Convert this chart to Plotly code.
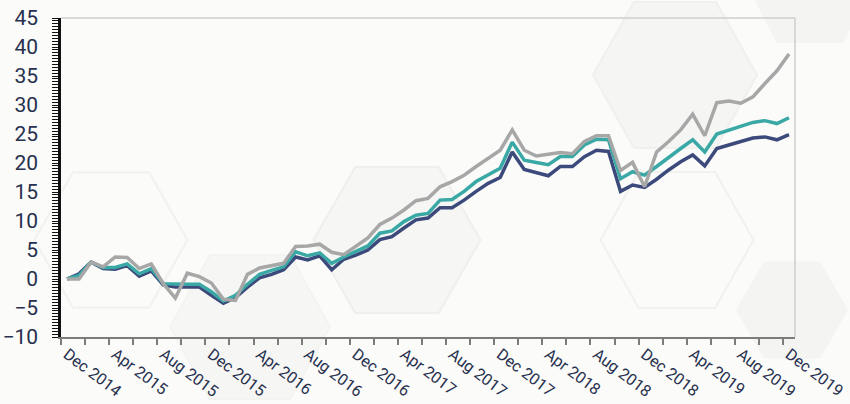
import plotly.graph_objects as go

# ---- data ----
months = ["Dec 2014", "Jan 2015", "Feb 2015", "Mar 2015", "Apr 2015", "May 2015", "Jun 2015", "Jul 2015",
          "Aug 2015", "Sep 2015", "Oct 2015", "Nov 2015", "Dec 2015", "Jan 2016", "Feb 2016", "Mar 2016",
          "Apr 2016", "May 2016", "Jun 2016", "Jul 2016", "Aug 2016", "Sep 2016", "Oct 2016", "Nov 2016",
          "Dec 2016", "Jan 2017", "Feb 2017", "Mar 2017", "Apr 2017", "May 2017", "Jun 2017", "Jul 2017",
          "Aug 2017", "Sep 2017", "Oct 2017", "Nov 2017", "Dec 2017", "Jan 2018", "Feb 2018", "Mar 2018",
          "Apr 2018", "May 2018", "Jun 2018", "Jul 2018", "Aug 2018", "Sep 2018", "Oct 2018", "Nov 2018",
          "Dec 2018", "Jan 2019", "Feb 2019", "Mar 2019", "Apr 2019", "May 2019", "Jun 2019", "Jul 2019",
          "Aug 2019", "Sep 2019", "Oct 2019", "Nov 2019", "Dec 2019"]

navy = [0.0, 0.9, 2.9, 1.8, 1.7, 2.3, 0.5, 1.4, -1.0, -1.4, -1.4, -1.4, -2.8, -4.2, -3.2, -1.4,
        0.2, 0.8, 1.6, 3.8, 3.3, 4.0, 1.6, 3.4, 4.1, 5.0, 6.8, 7.3, 8.8, 10.2, 10.5, 12.3,
        12.3, 13.6, 15.1, 16.5, 17.5, 21.9, 18.9, 18.3, 17.8, 19.4, 19.4, 21.1, 22.2, 22.0, 15.1, 16.2,
        15.8, 17.2, 18.8, 20.2, 21.4, 19.5, 22.5, 23.1, 23.7, 24.3, 24.5, 24.0, 24.9]

teal = [0.0, 0.6, 2.9, 2.0, 2.0, 2.6, 0.9, 1.8, -0.8, -0.9, -0.9, -0.9, -2.2, -3.8, -2.8, -0.9,
        0.8, 1.5, 2.1, 4.7, 4.0, 4.5, 2.7, 3.8, 4.7, 5.7, 7.9, 8.3, 9.9, 11.0, 11.3, 13.6,
        13.7, 15.1, 16.8, 17.9, 19.1, 23.6, 20.5, 20.1, 19.7, 21.1, 21.1, 23.1, 24.1, 24.0, 17.3, 18.5,
        17.9, 19.4, 21.0, 22.5, 24.0, 21.9, 25.0, 25.7, 26.4, 27.0, 27.3, 26.8, 27.8]

gray = [0.0, 0.0, 2.9, 2.1, 3.8, 3.7, 1.8, 2.6, -0.8, -3.3, 1.0, 0.4, -0.7, -3.5, -3.7, 0.8,
        1.9, 2.3, 2.7, 5.6, 5.7, 6.0, 4.6, 4.2, 5.6, 7.1, 9.4, 10.5, 11.9, 13.5, 13.9, 15.9,
        16.8, 17.9, 19.4, 20.8, 22.2, 25.7, 22.2, 21.2, 21.5, 21.8, 21.6, 23.7, 24.7, 24.7, 18.7, 20.1,
        15.9, 21.9, 23.7, 25.7, 28.4, 24.7, 30.4, 30.7, 30.3, 31.4, 33.7, 35.9, 38.8]

y_ticks = [-10, -5, 0, 5, 10, 15, 20, 25, 30, 35, 40, 45]

# ---- derived ----
idx = list(range(len(months)))
label_idx = idx[::4]
label_txt = [months[i] for i in label_idx]
boundary_ticks = [i - 0.5 for i in idx[::2]]

NAVY = "#3c4a7b"
TEAL = "#3aa9a6"
GRAY = "#a7a7a7"
TXT = "#27304e"
BG = "#fbfbf9"

fig = go.Figure()
for name, vals, col in [("Navy", navy, NAVY), ("Teal", teal, TEAL), ("Gray", gray, GRAY)]:
    fig.add_trace(go.Scatter(x=idx, y=vals, mode="lines", name=name,
                             line=dict(color=col, width=3.5), hoverinfo="skip"))

# ---- decorative background hexagons (pixel-based -> paper coords) ----
L, R, T, B = 61, 795, 18, 337
def px(x):
    return (x - L) / (R - L)
def py(y):
    return (B - y) / (B - T)

def hexagon(cx, cy, w, h, fill, line):
    pts = [(cx - w / 2, cy), (cx - w / 4, cy - h / 2), (cx + w / 4, cy - h / 2),
           (cx + w / 2, cy), (cx + w / 4, cy + h / 2), (cx - w / 4, cy + h / 2)]
    path = "M " + " L ".join(f"{px(a):.4f},{py(b):.4f}" for a, b in pts) + " Z"
    return dict(type="path", xref="paper", yref="paper", path=path, layer="below",
                fillcolor=fill, line=dict(color=line, width=2))

NOFILL = "rgba(0,0,0,0)"
shapes = [
    hexagon(111, 240, 153, 135, NOFILL, "#f1f1ef"),
    hexagon(250, 327, 160, 144, "#f6f6f4", "#f3f3f1"),
    hexagon(397, 240, 167, 146, "#f6f6f4", "#efefed"),
    hexagon(675, 75, 164, 146, "#f5f5f3", "#f0f0ee"),
    hexagon(677, 240, 153, 136, NOFILL, "#f1f1ef"),
    hexagon(810, -20, 130, 124, "#f4f4f2", "#f4f4f2"),
    hexagon(792, 310, 110, 95, "#f4f4f2", "#f4f4f2"),
]
# top / right plot border
shapes.append(dict(type="line", xref="paper", yref="paper", x0=0, x1=1, y0=1, y1=1,
                   line=dict(color="#cfcfcf", width=1.5)))
shapes.append(dict(type="line", xref="paper", yref="paper", x0=1, x1=1, y0=0, y1=1,
                   line=dict(color="#cfcfcf", width=1.5)))

fig.update_layout(
    width=850, height=404,
    margin=dict(l=L, r=850 - R, t=T, b=404 - B),
    paper_bgcolor=BG, plot_bgcolor="rgba(0,0,0,0)",
    showlegend=False,
    shapes=shapes,
    font=dict(family="Roboto", color=TXT),
    xaxis=dict(
        range=[-0.5, len(months) - 0.5],
        automargin=False,
        tickmode="array", tickvals=label_idx, ticktext=label_txt,
        ticks="", tickangle=37,
        tickfont=dict(family="Roboto", size=16, color=TXT),
        showgrid=False, zeroline=False,
        showline=True, linecolor="#7c7c7c", linewidth=2,
        minor=dict(tickmode="array", tickvals=boundary_ticks, ticks="outside",
                   ticklen=6, tickwidth=2, tickcolor="#7c7c7c", showgrid=False),
    ),
    yaxis=dict(
        range=[-10, 45],
        automargin=False,
        tickmode="array", tickvals=y_ticks,
        ticks="outside", ticklen=6, tickwidth=1.2, tickcolor="#111111",
        tickfont=dict(family="Roboto", size=21, color=TXT),
        ticklabelstandoff=10,
        showgrid=False, zeroline=False,
        showline=True, linecolor="#111111", linewidth=2.5,
        minor=dict(dtick=0.5, tick0=0, ticks="outside", ticklen=6, tickwidth=1,
                   tickcolor="#111111", showgrid=False),
    ),
)

fig.write_html("out.html",
               config={"displayModeBar": False},
               post_script="document.body.style.margin='0';"
                           "document.body.style.background='#fbfbf9';")
